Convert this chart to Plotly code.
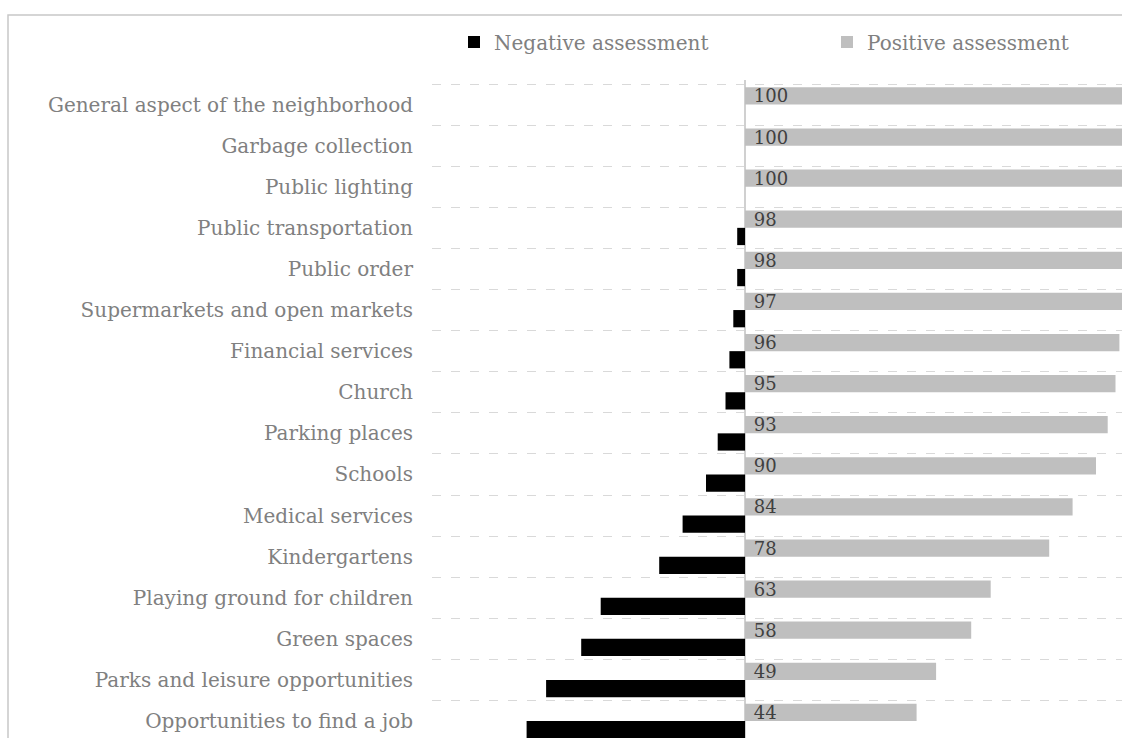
import plotly.graph_objects as go

categories = [
    "General aspect of the neighborhood",
    "Garbage collection",
    "Public lighting",
    "Public transportation",
    "Public order",
    "Supermarkets and open markets",
    "Financial services",
    "Church",
    "Parking places",
    "Schools",
    "Medical services",
    "Kindergartens",
    "Playing ground for children",
    "Green spaces",
    "Parks and leisure opportunities",
    "Opportunities to find a job",
]
positive = [100, 100, 100, 98, 98, 97, 96, 95, 93, 90, 84, 78, 63, 58, 49, 44]
negative = [0, 0, 0, 2, 2, 3, 4, 5, 7, 10, 16, 22, 37, 42, 51, 56]

W, H = 1122, 738
PL, PT = 432, 80  # plot area left / top in px
BAND = 41.1
FIRST_BOUNDARY_PX = 84

FONT = "DejaVu Serif"

fig = go.Figure()
fig.add_trace(go.Bar(
    y=categories, x=positive, orientation="h", name="Positive assessment",
    marker=dict(color="#bfbfbf", line=dict(width=0)),
    text=["\u00a0" + str(v) for v in positive],
    textposition="inside", insidetextanchor="start", constraintext="none",
    textfont=dict(family=FONT, size=18, color="#404040"),
    legend="legend2",
))
fig.add_trace(go.Bar(
    y=categories, x=[-v for v in negative], orientation="h", name="Negative assessment",
    marker=dict(color="#000000", line=dict(width=0)),
    legend="legend",
))

pw = W - PL
ph = H - PT
top = -0.5 - (FIRST_BOUNDARY_PX - PT) / BAND
legend_common = dict(
    orientation="h", xanchor="left", yanchor="middle",
    y=(H - 42) / ph,
    font=dict(family=FONT, size=20, color="#808080"),
    bgcolor="rgba(0,0,0,0)",
)
fig.update_layout(
    width=W, height=H,
    margin=dict(l=PL, r=0, t=PT, b=0, pad=0, autoexpand=False),
    paper_bgcolor="white", plot_bgcolor="white",
    barmode="group", bargap=0.16, bargroupgap=0,
    showlegend=True,
    legend=dict(x=(454 - PL) / pw, **legend_common),
    legend2=dict(x=(827 - PL) / pw, **legend_common),
    font=dict(family=FONT),
    xaxis=dict(
        range=[-(745 - PL) / 3.9, (W - 745) / 3.9],
        showgrid=False, showticklabels=False, ticks="",
        zeroline=True, zerolinecolor="#d0d0d0", zerolinewidth=1.5,
        fixedrange=True,
    ),
    yaxis=dict(
        type="category",
        range=[top + ph / BAND, top],
        tickson="boundaries", ticks="",
        showgrid=True, gridcolor="#d9d9d9", gridwidth=1, griddash="9px,10px",
        tickfont=dict(family=FONT, size=20, color="#808080"),
        ticklabelstandoff=18,
        showline=False, zeroline=False,
    ),
    shapes=[dict(
        type="rect", xref="paper", yref="paper",
        x0=(8 - PL) / pw, x1=1.5, y0=-0.5, y1=(H - 15) / ph,
        line=dict(color="#c8c8c8", width=1.5), fillcolor="rgba(0,0,0,0)",
        layer="below",
    )],
)

fig.write_html("out.html")
